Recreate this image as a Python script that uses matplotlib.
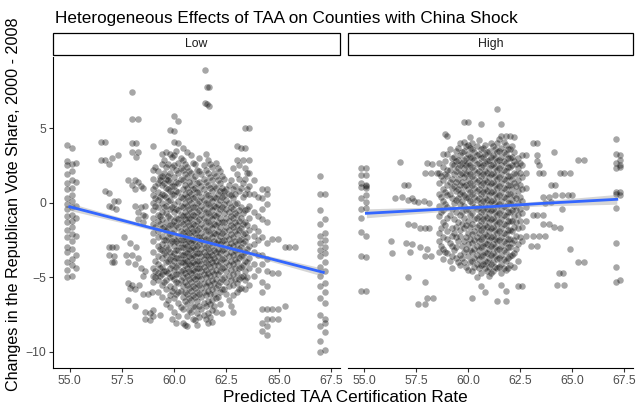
import matplotlib
matplotlib.use('Agg')
import matplotlib.pyplot as plt
from matplotlib.patches import Rectangle

plt.rcParams['font.family'] = ['Liberation Sans', 'DejaVu Sans']

# county points, grouped as (x, [y, ...]) columns
low_edge = [
    (54.85, [3.9, 2.8, 2.5, 1.9, 1.3, 0.9, 0.3, -0.1, -0.4, -0.9, -1.3, -1.8, -2.3, -3.0, -3.3, -4.0, -4.5, -5.0]),
    (55.1, [3.7, 2.6, 2.1, 1.5, 1.0, 0.5, 0.1, -0.3, -0.8, -1.2, -1.6, -2.1, -2.6, -3.1, -3.8, -4.2, -4.9]),
    (55.3, [2.7, 1.4, -0.2, -1.0, -2.2, -3.5, -4.4]),
]
low_sparse = [
    (56.5, [4.1, 2.9]), (56.7, [4.1, 2.9, 0.8]), (56.9, [2.6, 0.65, -0.2, -3.0, -3.5]),
    (57.0, [3.0, -0.3, -3.0, -4.0]), (57.1, [0.1, -3.6, -4.0]), (57.2, [-0.4, -2.95]),
    (57.3, [3.2, 0.15]), (57.6, [-2.3]),
    (57.7, [-3.5]), (57.8, [1.5, -4.0, -5.4, -6.5]), (57.9, [-2.7, -5.7]),
    (58.0, [7.4, 5.6, 4.0, 3.4, 1.2, -3.5, -5.5]), (58.1, [1.5, 0.95, -0.2, -4.1, -6.9, -5.8]),
    (58.15, [4.0, 3.1, -3.0]), (58.25, [5.6, 3.4, 1.4, -0.6, -1.1, -3.7]), (58.3, [-5.5]),
    (58.4, [1.1, -0.3, -4.4]), (58.5, [1.0, -0.8, -1.3, -6.1, -4.9]),
    (58.6, [-0.2, -0.9, -4.6, -7.3, -7.8]), (58.75, [-6.1]), (58.85, [-7.4, -7.9]), (58.95, [-6.0]),
]
low_core = [
    (59.0, [3.8, 2.2, 1.6, 0.9, 0.5, 0.0, -0.5, -1.0, -1.4, -2.0, -2.6, -3.3, -4.4, -4.9, -5.3, -7.2, -7.6]),
    (59.2, [2.1, 1.3, 0.7, 0.2, -0.3, -0.8, -1.2, -1.9, -2.3, -2.9, -3.6, -4.1, -4.7, -5.2, -6.0]),
    (59.4, [3.3, 2.6, 1.8, 1.2, 0.6, 0.0, -0.6, -1.1, -1.7, -2.2, -2.8, -3.2, -3.7, -4.3, -4.8, -5.5, -6.3]),
    (59.6, [3.4, 2.4, 1.6, 1.0, 0.4, -0.2, -0.7, -1.3, -1.9, -2.5, -3.0, -3.5, -4.0, -4.6, -5.2, -5.8, -6.8]),
    (59.8, [4.9, 3.3, 2.0, 1.4, 0.8, 0.2, -0.4, -1.0, -1.5, -2.1, -2.7, -3.3, -3.8, -4.4, -5.0, -5.6, -6.2, -7.0]),
    (60.0, [5.8, 4.8, 4.1, 3.2, 2.5, 1.7, 1.1, 0.5, -0.1, -0.6, -1.2, -1.8, -2.4, -2.9, -3.4, -3.9, -4.5, -5.1, -5.7, -6.4, -7.3]),
    (60.2, [5.5, 4.0, 2.7, 2.0, 1.3, 0.7, 0.1, -0.5, -1.1, -1.6, -2.2, -2.7, -3.2, -3.7, -4.2, -4.8, -5.4, -6.0, -6.7, -7.6]),
    (60.4, [3.7, 2.9, 2.2, 1.5, 0.9, 0.3, -0.3, -0.9, -1.4, -2.0, -2.5, -3.0, -3.5, -4.0, -4.5, -5.0, -5.6, -6.3, -7.1, -8.1]),
    (60.6, [3.4, 2.4, 1.7, 1.0, 0.4, -0.2, -0.8, -1.3, -1.9, -2.4, -2.9, -3.4, -3.9, -4.4, -4.9, -5.5, -6.1, -6.8, -7.6, -8.3]),
    (60.8, [3.2, 2.0, 1.2, 0.6, 0.0, -0.6, -1.1, -1.7, -2.2, -2.7, -3.2, -3.7, -4.2, -4.7, -5.3, -5.9, -6.5, -7.3]),
    (61.0, [2.6, 1.8, 1.0, 0.4, -0.3, -0.9, -1.5, -2.0, -2.6, -3.1, -3.6, -4.1, -4.6, -5.1, -5.7, -6.3, -7.0, -7.9]),
    (61.2, [3.0, 2.1, 1.4, 0.7, 0.1, -0.5, -1.1, -1.7, -2.3, -2.8, -3.4, -3.9, -4.4, -4.9, -5.5, -6.1, -6.9, -7.7]),
    (61.4, [2.5, 1.6, 0.9, 0.2, -0.4, -1.0, -1.6, -2.2, -2.8, -3.3, -3.8, -4.3, -4.8, -5.4, -6.0, -6.7, -7.5]),
    (61.6, [2.9, 2.0, 1.2, 0.5, -0.1, -0.7, -1.3, -1.9, -2.5, -3.1, -3.6, -4.1, -4.7, -5.3, -5.9, -6.6, -7.4, -8.1]),
    (61.8, [2.4, 1.5, 0.8, 0.1, -0.5, -1.1, -1.7, -2.3, -2.9, -3.5, -4.0, -4.6, -5.2, -5.8, -6.5, -7.2, -8.0]),
    (62.0, [2.7, 1.8, 1.0, 0.3, -0.3, -0.9, -1.5, -2.1, -2.7, -3.3, -3.9, -4.5, -5.1, -5.7, -6.4, -7.3]),
    (62.2, [2.1, 1.3, 0.8, 0.2, -0.4, -1.0, -1.6, -2.2, -2.8, -3.4, -4.0, -4.6, -5.3, -6.0, -6.8]),
    (62.4, [1.6, 0.8, 0.5, -0.1, -0.7, -1.3, -1.9, -2.5, -3.1, -3.7, -4.3, -5.0, -5.8]),
    (62.6, [1.2, 0.6, 0.0, -0.6, -1.2, -1.8, -2.4, -3.0, -3.6, -4.2, -4.9, -5.6, -6.5]),
    (62.8, [2.3, 0.9, 0.3, -0.4, -1.0, -1.6, -2.3, -2.9, -3.5, -4.1, -4.8, -5.5, -6.2, -7.3]),
    (63.0, [3.8, 2.9, 1.9, 0.0, -0.8, -1.5, -2.1, -2.8, -3.4, -4.0, -4.7, -5.4, -6.0]),
    (63.2, [3.7, 1.0, -0.3, -1.0, -1.7, -2.4, -3.0, -3.6, -4.3, -5.0, -5.7]),
    (63.4, [5.0, 3.7, 2.3, 1.6, 0.6, -0.5, -1.3, -2.0, -2.6, -3.3, -3.9, -4.6, -5.2, -5.8]),
    (63.6, [5.0, 2.9, 2.0, 1.1, 0.6, -0.2, -1.0, -1.8, -2.9, -3.7, -4.4, -5.5]),
    (63.8, [1.5, 0.6, -0.6, -1.6, -2.2, -2.8, -3.3, -4.1, -4.9]),
    (64.0, [0.4, -0.9, -1.9, -2.5, -3.5, -4.5]),
]
low_core_mid = [
    (59.1, [2.4, 1.1, 0.3, -0.2, -1.6, -3.9, -4.6, -5.0]),
    (59.3, [1.7, 1.5, 0.4, -0.9, -1.4, -3.1, -4.4, -4.9, -7.5]),
    (59.5, [2.9, 2.0, 1.3, 0.5, -0.3, -1.6, -2.5, -3.4, -4.6, -5.3]),
    (59.7, [2.6, 1.8, 1.5, 0.9, 0.1, -0.9, -1.7, -2.3, -3.1, -3.9, -4.7, -6.5]),
    (59.9, [3.1, 2.4, 1.1, 0.6, -0.3, -1.4, -2.0, -2.6, -3.6, -4.2, -4.9, -5.9, -7.8]),
    (60.1, [3.5, 2.2, 1.4, 0.8, -0.4, -1.0, -1.5, -2.6, -3.2, -3.7, -4.3, -4.8, -5.3, -6.1, -8.1]),
    (60.3, [3.0, 2.3, 1.6, 0.4, -0.2, -0.8, -1.3, -1.9, -2.5, -3.0, -3.5, -4.0, -4.6, -5.2, -5.9, -7.0]),
    (60.5, [2.6, 1.9, 1.2, 0.6, 0.0, -0.6, -1.1, -1.7, -2.2, -2.8, -3.3, -3.8, -4.2, -4.7, -5.3, -6.0, -6.6, -8.2]),
    (60.7, [2.1, 1.4, 0.7, 0.2, -0.4, -1.0, -1.5, -2.0, -2.6, -3.1, -3.6, -4.1, -4.6, -5.1, -5.7, -6.4, -7.2]),
    (60.9, [2.7, 1.6, 0.9, 0.3, -0.3, -0.8, -1.4, -1.9, -2.5, -3.0, -3.5, -4.0, -4.5, -5.0, -5.6, -6.2, -6.9, -7.8]),
    (61.1, [2.2, 1.3, 0.7, 0.0, -0.6, -1.2, -1.8, -2.3, -2.9, -3.4, -3.9, -4.4, -4.9, -5.4, -6.0, -6.6, -7.4, -8.2]),
    (61.3, [1.9, 1.1, 0.4, -0.2, -0.8, -1.4, -2.0, -2.5, -3.1, -3.6, -4.1, -4.6, -5.1, -5.7, -6.3, -7.1]),
    (61.5, [3.3, 2.2, 1.4, 0.6, 0.0, -0.6, -1.2, -1.8, -2.4, -3.0, -3.5, -4.0, -4.5, -5.0, -5.6, -6.2, -6.9, -7.8]),
    (61.7, [2.6, 1.7, 1.0, 0.3, -0.3, -0.9, -1.5, -2.1, -2.7, -3.3, -3.8, -4.3, -4.9, -5.5, -6.1, -6.8, -7.7]),
    (61.9, [2.0, 1.1, 0.4, -0.2, -0.8, -1.4, -2.0, -2.6, -3.2, -3.7, -4.2, -4.8, -5.4, -6.1, -6.9]),
    (62.1, [2.3, 1.5, 0.6, -0.1, -0.7, -1.3, -1.9, -2.5, -3.1, -3.6, -4.2, -4.8, -5.5, -6.3]),
    (62.3, [1.8, 1.0, 0.4, -0.3, -1.3, -2.0, -2.6, -3.2, -3.8, -4.4, -5.1, -5.8, -7.4]),
    (62.5, [0.9, 0.2, -0.4, -1.0, -1.6, -2.2, -2.8, -3.4, -4.0, -4.6, -5.3, -6.1]),
    (62.7, [1.5, 0.5, -0.3, -0.9, -1.5, -2.1, -2.7, -3.3, -3.9, -4.5, -5.2, -6.9]),
    (62.9, [1.1, 0.6, -0.1, -0.7, -1.3, -1.9, -2.6, -3.2, -3.8, -4.4, -5.1]),
    (63.1, [2.5, 1.6, 0.8, -0.5, -1.2, -1.8, -2.5, -3.1, -3.7, -4.4, -5.1, -5.8]),
    (63.3, [2.9, 1.3, 0.4, -0.7, -1.4, -2.1, -2.7, -3.5, -4.2, -4.9]),
    (63.5, [2.0, 0.9, -0.4, -1.5, -2.3, -3.1, -4.0, -5.0]),
]
low_top = [(61.45, [8.9, 6.7]), (61.55, [7.8, 6.6]), (61.65, [7.8, 6.5])]
low_right = [
    (64.2, [0.9, 0.3, -0.4, -1.1, -2.3, -3.5, -4.1, -5.3, -6.0, -7.1, -8.1, -8.6]),
    (64.45, [0.9, 0.6, -0.1, -1.3, -2.7, -3.8, -4.6, -5.6, -7.1, -7.8, -8.3, -8.9]),
    (64.7, [-2.4, -4.7, -7.1, -7.8]), (64.95, [-2.4, -4.7, -7.1, -7.8]),
    (65.3, [-2.95, -6.9]), (65.5, [-3.0]), (65.8, [-3.0]),
    (66.95, [1.8, 0.6, -0.5, -1.4, -2.2, -2.7, -3.2, -3.6, -4.3, -4.9, -5.6, -6.4, -7.5, -8.3, -9.3, -10.0]),
    (67.2, [0.6, -1.1, -2.0, -2.5, -3.0, -3.4, -4.0, -4.6, -5.4, -6.0, -6.7, -7.8, -8.1, -8.7, -9.9]),
]

high_edge = [
    (54.85, [2.35, 1.85, 1.3, 1.05, 0.35, -0.4, -1.05, -1.95, -3.6, -5.9]),
    (55.1, [2.3, 1.85, 1.2, 1.15, 1.0, 0.5, 0.05, -0.35, -2.2, -3.65, -5.9]),
]
high_sparse = [
    (56.3, [-2.6]), (56.35, [-3.4]), (56.5, [0.3]), (56.7, [2.75]), (56.8, [0.4]), (56.9, [1.2]),
    (57.0, [-2.7]), (57.1, [1.2, 0.2, -1.4, -5.0]), (57.2, [-3.3]), (57.3, [-2.8, 0.3]),
    (57.4, [0.1, -1.5]), (57.6, [-6.8, 0.05]), (57.7, [-1.7, -3.0]), (57.85, [0.1]),
    (57.9, [2.0, -1.7, -3.6, -5.3, -6.8]), (58.0, [2.7, -3.1, -6.4]), (58.1, [-1.7, 0.0]),
    (58.2, [2.0, -3.6]), (58.25, [2.6]), (58.3, [-6.4]), (58.5, [2.0]), (58.9, [4.6]),
]
high_core = [
    (58.6, [2.7, 2.0, 1.3, 0.6, -0.2, -0.9, -2.0, -2.6, -3.3]),
    (58.8, [3.3, 2.4, 1.5, 0.9, 0.1, -0.5, -1.3, -2.3, -3.1, -3.8]),
    (59.0, [4.5, 3.3, 2.2, 1.8, 1.2, 0.5, -0.3, -1.0, -1.9, -2.4, -3.4]),
    (59.2, [3.0, 2.6, 1.6, 1.0, 0.3, -0.4, -1.7, -2.2, -2.9, -3.6, -4.4]),
    (59.4, [3.5, 2.8, 2.1, 1.4, 0.8, 0.2, -0.6, -1.6, -2.3, -3.0, -3.7]),
    (59.6, [4.0, 3.2, 2.5, 1.9, 1.2, 0.6, -0.1, -0.8, -1.8, -2.2, -3.5, -4.2]),
    (59.8, [5.4, 4.1, 3.5, 2.9, 2.3, 1.7, 1.1, 0.5, -0.2, -1.0, -1.7, -2.6, -3.3, -4.0]),
    (60.0, [5.4, 3.9, 3.3, 2.7, 2.1, 1.5, 0.9, 0.3, -0.4, -1.2, -2.0, -2.8, -3.6, -4.5]),
    (60.2, [4.0, 3.6, 3.0, 2.4, 1.8, 1.2, 0.6, 0.0, -0.7, -1.4, -2.1, -2.7, -3.3, -3.9, -4.6, -6.4]),
    (60.4, [3.8, 3.2, 2.6, 2.0, 1.4, 0.8, 0.2, -0.4, -1.0, -1.6, -2.3, -2.9, -3.5, -4.1, -5.0]),
    (60.6, [5.3, 3.6, 3.0, 2.4, 1.8, 1.2, 0.6, 0.0, -0.6, -1.2, -1.8, -2.4, -3.0, -3.6, -4.2, -4.7, -5.6]),
    (60.8, [3.9, 3.3, 2.7, 2.1, 1.5, 0.9, 0.3, -0.3, -0.9, -1.5, -2.1, -2.7, -3.3, -3.9, -4.4, -6.0]),
    (61.0, [3.5, 2.9, 2.3, 1.7, 1.1, 0.5, -0.1, -0.7, -1.3, -1.9, -2.5, -3.1, -3.7, -4.3, -4.9]),
    (61.2, [3.8, 3.2, 2.6, 2.0, 1.4, 0.8, 0.2, -0.4, -1.0, -1.6, -2.2, -2.8, -3.4, -4.0, -4.6]),
    (61.4, [6.3, 4.0, 3.4, 2.8, 2.2, 1.6, 1.0, 0.4, -0.2, -0.8, -1.4, -2.0, -2.6, -3.2, -3.8, -4.4, -6.6]),
    (61.6, [5.3, 4.5, 3.7, 3.1, 2.5, 1.9, 1.3, 0.7, 0.1, -0.5, -1.1, -1.7, -2.3, -2.9, -3.5, -4.1, -4.7, -5.5]),
    (61.8, [4.5, 3.9, 3.3, 2.7, 2.1, 1.5, 0.9, 0.3, -0.3, -0.9, -1.5, -2.1, -2.7, -3.3, -3.9, -4.5, -5.9, -6.6]),
    (62.0, [4.5, 3.6, 3.0, 2.4, 1.8, 1.2, 0.6, 0.0, -0.6, -1.2, -1.8, -2.4, -3.0, -3.6, -4.2]),
    (62.2, [4.4, 3.4, 2.8, 2.0, 1.3, 0.5, -0.2, -0.9, -1.6, -2.5, -3.4, -4.3]),
    (62.4, [3.0, 2.3, 1.5, 0.8, 0.0, -0.8, -1.7, -2.8, -3.9, -5.6]),
    (62.6, [3.2, 2.5, 1.7, 0.9, 0.1, -0.7, -1.6, -2.6, -5.6]),
    (62.8, [3.2, 2.0, 1.0, -0.3, -1.2, -2.2]),
]
high_core_mid = [
    (58.7, [1.8, 0.4, -0.6, -1.7, -2.9]),
    (58.9, [2.8, 1.9, 0.7, -0.1, -1.5, -3.3]),
    (59.1, [3.6, 2.2, 1.4, 0.6, -0.8, -2.7, -3.9]),
    (59.3, [3.1, 2.5, 1.9, 1.1, 0.0, -1.1, -2.0, -3.2]),
    (59.5, [3.7, 2.9, 2.3, 1.6, 0.9, 0.3, -1.3, -2.6, -4.0]),
    (59.7, [3.4, 2.7, 2.0, 1.4, 0.7, 0.1, -0.6, -1.4, -2.9, -3.7]),
    (59.9, [3.8, 3.0, 2.5, 1.9, 1.2, 0.4, -0.5, -1.5, -2.3, -3.1, -4.3]),
    (60.1, [4.4, 3.7, 3.1, 2.5, 1.9, 1.3, 0.7, 0.1, -0.8, -1.6, -2.4, -3.2, -4.0]),
    (60.3, [3.4, 2.9, 2.2, 1.6, 1.0, 0.4, -0.3, -1.1, -1.9, -2.5, -3.1, -3.7, -4.3]),
    (60.5, [4.2, 3.3, 2.7, 2.1, 1.5, 0.9, 0.3, -0.3, -0.9, -1.5, -2.0, -2.6, -3.2, -3.8, -4.4]),
    (60.7, [3.7, 3.1, 2.5, 1.9, 1.3, 0.7, 0.1, -0.5, -1.1, -1.7, -2.3, -2.9, -3.5, -4.1]),
    (60.9, [3.4, 2.8, 2.0, 1.4, 0.8, 0.2, -0.4, -1.0, -1.6, -2.2, -2.8, -3.4, -4.0, -4.6]),
    (61.1, [4.0, 3.1, 2.5, 1.9, 1.3, 0.7, 0.1, -0.5, -1.1, -1.7, -2.3, -2.9, -3.5, -4.1, -4.7]),
    (61.3, [3.6, 3.0, 2.4, 1.8, 1.2, 0.6, 0.0, -0.6, -1.2, -1.8, -2.4, -3.0, -3.6, -4.3]),
    (61.5, [4.3, 3.5, 2.9, 2.3, 1.7, 1.1, 0.5, -0.1, -0.7, -1.3, -1.9, -2.5, -3.1, -3.7, -4.3]),
    (61.7, [4.1, 3.4, 2.8, 2.2, 1.6, 1.0, 0.4, -0.2, -0.8, -1.4, -2.0, -2.6, -3.2, -3.8, -4.4]),
    (61.9, [3.6, 3.0, 2.4, 1.8, 1.2, 0.6, 0.0, -0.6, -1.2, -1.8, -2.4, -3.0, -3.7, -4.4]),
    (62.1, [3.8, 3.1, 2.5, 1.6, 0.9, 0.2, -0.5, -1.2, -1.9, -2.7, -3.5]),
    (62.3, [2.6, 1.9, 1.1, 0.3, -0.5, -1.3, -2.2, -3.1]),
    (62.5, [2.7, 2.0, 1.2, 0.4, -0.4, -1.2, -2.3]),
]
high_right = [
    (63.0, [-2.9]), (63.1, [4.0, -0.85, -2.2]), (63.3, [4.0, 3.2, 2.8, -0.85, -2.9]),
    (63.4, [2.0, 2.5, -2.2]), (63.6, [2.0, 0.4, -1.4, -0.85]), (63.7, [0.0, -2.2]),
    (63.9, [0.4, -1.4]), (64.0, [1.2, 0.05]), (64.15, [3.4, -1.6]), (64.2, [1.2, 0.5]),
    (64.25, [-5.5]), (64.35, [-4.7]), (64.4, [2.0, -1.7]), (64.5, [0.5, -0.4]),
    (64.55, [-4.7]), (64.6, [2.0, -5.5]), (64.8, [0.55]), (64.9, [2.0, -3.1]),
    (65.0, [0.5]), (65.3, [2.9, -4.0]), (65.55, [2.9, -4.0]),
    (67.1, [4.3, 3.3, 2.7, 2.3, 0.7, 0.6, -0.35, -2.7, -4.3, -5.3]),
    (67.3, [3.2, 2.9, 2.5, 2.4, 0.75, 0.55, -5.2]),
]

# smooth fits
low_fit_x = [55.0, 58.0, 61.0, 64.0, 67.13]
low_fit_y = [-0.27, -1.36, -2.45, -3.54, -4.67]
low_fit_se = [0.25, 0.15, 0.11, 0.15, 0.27]
high_fit_x = [55.1, 58.5, 61.0, 63.5, 67.15]
high_fit_y = [-0.71, -0.45, -0.27, -0.05, 0.23]
high_fit_se = [0.3, 0.17, 0.13, 0.17, 0.33]

panels = ['Low', 'High']
x_ticks = [55.0, 57.5, 60.0, 62.5, 65.0, 67.5]
y_ticks = [-10, -5, 0, 5]


def flatten(*groups):
    xs, ys = [], []
    for g in groups:
        for x, col in g:
            xs += [x] * len(col)
            ys += col
    return xs, ys


fig = plt.figure(figsize=(6.41, 4.08), dpi=100)
W, H = 641, 408
ax_l = fig.add_axes([53 / W, 1 - 368 / H, 287 / W, 311 / H])
ax_r = fig.add_axes([347.7 / W, 1 - 368 / H, 285.3 / W, 311 / H])

data = [
    flatten(low_edge, low_sparse, low_core, low_core_mid, low_top, low_right),
    flatten(high_edge, high_sparse, high_core, high_core_mid, high_right),
]
fits = [(low_fit_x, low_fit_y, low_fit_se), (high_fit_x, high_fit_y, high_fit_se)]

for ax, name, (xs, ys), (fx, fy, fse) in zip([ax_l, ax_r], panels, data, fits):
    ax.scatter(xs, ys, s=22, c='black', alpha=0.35, linewidths=0)
    lo = [a - b for a, b in zip(fy, fse)]
    hi = [a + b for a, b in zip(fy, fse)]
    ax.fill_between(fx, lo, hi, color='#999999', alpha=0.4, linewidth=0)
    ax.plot(fx, fy, color='#3366FF', lw=2.0)
    ax.set_xlim(54.2, 67.93)
    ax.set_ylim(-11.09, 9.78)
    ax.set_xticks(x_ticks)
    ax.set_xticklabels(['%.1f' % t for t in x_ticks])
    ax.set_yticks(y_ticks)
    for s in ['top', 'right']:
        ax.spines[s].set_visible(False)
    ax.spines['bottom'].set_linewidth(0.8)
    ax.spines['left'].set_linewidth(0.8)
    ax.tick_params(length=3, width=0.8, color='#333333', labelcolor='#4D4D4D',
                   labelsize=8.8, pad=2)
    # strip
    pos = ax.get_position()
    fig.patches.append(Rectangle((pos.x0, 1 - 55 / H), pos.width, 22 / H,
                                 transform=fig.transFigure, facecolor='white',
                                 edgecolor='black', lw=0.9))
    fig.text(pos.x0 + pos.width / 2, 1 - 44 / H, name, ha='center', va='center',
             fontsize=8.8, color='#1A1A1A')

ax_r.spines['left'].set_visible(False)
ax_r.tick_params(axis='y', left=False, labelleft=False)

fig.text(55 / W, 1 - 18 / H, 'Heterogeneous Effects of TAA on Counties with China Shock',
         fontsize=12.3, ha='left', va='center')
fig.text(345 / W, 1 - 397 / H, 'Predicted TAA Certification Rate', fontsize=12.3,
         ha='center', va='center')
fig.text(14 / W, 1 - 204 / H, 'Changes in the Republican Vote Share, 2000 - 2008',
         fontsize=11.6, rotation=90, ha='center', va='center')

fig.savefig('out.png', dpi=100)
